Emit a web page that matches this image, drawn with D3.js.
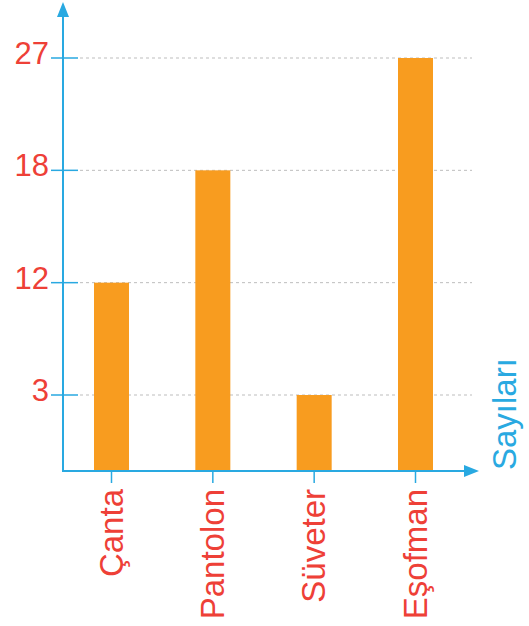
<!DOCTYPE html>
<html>
<head>
<meta charset="utf-8">
<script src="https://cdn.jsdelivr.net/npm/d3@7"></script>
<style>
  body { margin: 0; background: #fff; }
  text { font-family: "Liberation Sans", Arial, sans-serif; }
</style>
</head>
<body>
<div id="canvas"></div>
<script>
// data
var categories = ['Çanta', 'Pantolon', 'Süveter', 'Eşofman'];
var counts = [12, 18, 3, 27];
var tickValues = [3, 12, 18, 27];
var axisTitle = 'Sayıları';

var W = 529, H = 626;
var red = '#ee4037', blue = '#29a9e1', orange = '#f89c1f';

var svg = d3.select('#canvas').append('svg')
    .attr('width', W).attr('height', H);

var x0 = 63, y0 = 471;   // origin of the axes

// ticks are equally spaced, not proportional
var tickPos = d3.scalePoint()
    .domain(tickValues.slice().reverse())
    .range([58, 395]);
var y = d3.scaleLinear()
    .domain([0].concat(tickValues))
    .range([y0].concat(tickValues.map(function(d){ return tickPos(d); })));

var x = d3.scalePoint().domain(categories).range([111.5, 415.5]);
var barW = 35;

// gridlines
svg.selectAll('.grid')
    .data(tickValues)
    .enter().append('line').attr('class', 'grid')
    .attr('x1', 80).attr('x2', 472)
    .attr('y1', function(d){ return y(d); })
    .attr('y2', function(d){ return y(d); })
    .attr('stroke', '#bdbdbd').attr('stroke-width', 1)
    .attr('stroke-dasharray', '3,3');

// bars
svg.selectAll('.bar')
    .data(categories)
    .enter().append('rect').attr('class', 'bar')
    .attr('x', function(d){ return x(d) - barW / 2; })
    .attr('width', barW)
    .attr('y', function(d, i){ return y(counts[i]); })
    .attr('height', function(d, i){ return y0 - y(counts[i]); })
    .attr('fill', orange);

// axes
svg.append('line')
    .attr('x1', x0).attr('x2', x0).attr('y1', y0).attr('y2', 12)
    .attr('stroke', blue).attr('stroke-width', 2);
svg.append('line')
    .attr('x1', x0 - 1).attr('x2', 468).attr('y1', y0).attr('y2', y0)
    .attr('stroke', blue).attr('stroke-width', 2);
svg.append('path')
    .attr('d', 'M' + x0 + ',2L' + (x0 - 6) + ',17L' + (x0 + 6) + ',17Z')
    .attr('fill', blue);
svg.append('path')
    .attr('d', 'M479,' + y0 + 'L464,' + (y0 - 6) + 'L464,' + (y0 + 6) + 'Z')
    .attr('fill', blue);

// y ticks and labels
svg.selectAll('.ytick')
    .data(tickValues)
    .enter().append('line').attr('class', 'ytick')
    .attr('x1', 51).attr('x2', 78)
    .attr('y1', function(d){ return y(d); })
    .attr('y2', function(d){ return y(d); })
    .attr('stroke', blue).attr('stroke-width', 1.5);
svg.selectAll('.ylabel')
    .data(tickValues)
    .enter().append('text').attr('class', 'ylabel')
    .attr('x', 49)
    .attr('y', function(d){ return y(d) + 6; })
    .attr('text-anchor', 'end')
    .attr('font-size', 31)
    .attr('fill', red)
    .text(function(d){ return d; });

// x ticks and labels
svg.selectAll('.xtick')
    .data(categories)
    .enter().append('line').attr('class', 'xtick')
    .attr('x1', function(d){ return x(d); })
    .attr('x2', function(d){ return x(d); })
    .attr('y1', y0).attr('y2', y0 + 12)
    .attr('stroke', blue).attr('stroke-width', 1.5);
svg.selectAll('.xlabel')
    .data(categories)
    .enter().append('text').attr('class', 'xlabel')
    .attr('transform', function(d){ return 'translate(' + (x(d) + 11) + ',489) rotate(-90)'; })
    .attr('text-anchor', 'end')
    .attr('font-size', 33)
    .attr('fill', red)
    .text(function(d){ return d; });

// axis title
svg.append('text')
    .attr('transform', 'translate(516,470) rotate(-90)')
    .attr('text-anchor', 'start')
    .attr('font-size', 33)
    .attr('fill', blue)
    .text(axisTitle);
</script>
</body>
</html>
